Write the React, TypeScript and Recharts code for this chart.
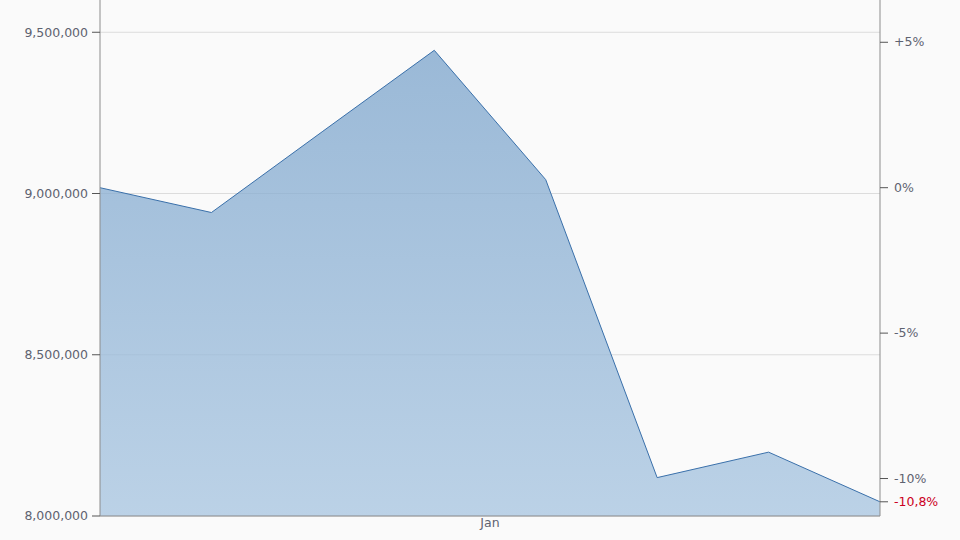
import { Area, AreaChart, CartesianGrid, XAxis, YAxis } from "recharts"

const positions = [0, 1, 2, 3, 4, 5, 6, 7]
const values = [9018000, 8941000, 9193000, 9444000, 9043000, 8119000, 8198000, 8044000]
const leftTicks = [8000000, 8500000, 9000000, 9500000]
const pctTicks = [5, 0, -5, -10]
const monthTicks = [3.5]
const monthLabels = ["Jan"]

const base = values[0]
const lastPct = Math.round((values[values.length - 1] / base - 1) * 1000) / 10

const data = positions.map((p, i) => ({ x: p, value: values[i] }))
const rightTicks = [...pctTicks.map((p) => base * (1 + p / 100)), base * (1 + lastPct / 100)]

const textColor = "#5e6270"

const fmtPct = (v: number) => {
  const p = Math.round((v / base - 1) * 1000) / 10
  const s = String(p).replace(".", ",")
  return (p > 0 ? "+" : "") + s + "%"
}

const RightTick = (props: any) => {
  const { x, y, payload } = props
  const isLast = Math.abs(payload.value - rightTicks[rightTicks.length - 1]) < 1
  return (
    <text x={x + 4} y={y} dy={4} fill={isLast ? "#cc0022" : textColor} fontSize={12.5} textAnchor="start">
      {fmtPct(payload.value)}
    </text>
  )
}

export default function App() {
  return (
    <div style={{ position: "absolute", left: 0, top: 0, width: 960, height: 540, background: "#fafafa", fontFamily: "DejaVu Sans, Verdana, sans-serif" }}>
      <AreaChart width={960} height={540} data={data} margin={{ top: 0, right: 0, bottom: 0, left: 0 }}>
        <defs>
          <linearGradient id="fillGrad" x1="0" y1="0" x2="0" y2="1">
            <stop offset="0%" stopColor="#7aa3cb" />
            <stop offset="100%" stopColor="#a6c4e0" />
          </linearGradient>
        </defs>
        <CartesianGrid vertical={false} stroke="#dcdcdc" yAxisId="left" horizontalValues={leftTicks} />
        <XAxis
          dataKey="x"
          type="number"
          domain={[0, 7]}
          ticks={monthTicks}
          tickFormatter={(v: number) => monthLabels[monthTicks.indexOf(v)] ?? ""}
          tickLine={false}
          tickSize={0}
          tickMargin={2}
          axisLine={{ stroke: "#8c8c8c" }}
          tick={{ fill: textColor, fontSize: 12.5 }}
          height={24}
        />
        <YAxis
          yAxisId="left"
          orientation="left"
          domain={[8000000, 9600000]}
          ticks={leftTicks}
          tickFormatter={(v: number) => v.toLocaleString("en-US")}
          width={100}
          axisLine={{ stroke: "#8c8c8c" }}
          tickLine={{ stroke: "#555" }}
          tickSize={8}
          tickMargin={4}
          tick={{ fill: textColor, fontSize: 12.5 }}
          allowDataOverflow
        />
        <YAxis
          yAxisId="right"
          orientation="right"
          domain={[8000000, 9600000]}
          ticks={rightTicks}
          width={80}
          axisLine={{ stroke: "#8c8c8c" }}
          tickLine={{ stroke: "#555" }}
          tickSize={8}
          tick={<RightTick />}
          allowDataOverflow
          interval={0}
        />
        <Area
          yAxisId="left"
          type="linear"
          dataKey="value"
          stroke="#3a70aa"
          strokeWidth={1}
          fill="url(#fillGrad)"
          fillOpacity={0.75}
          isAnimationActive={false}
          dot={false}
          activeDot={false}
          baseValue="dataMin"
        />
      </AreaChart>
    </div>
  )
}
